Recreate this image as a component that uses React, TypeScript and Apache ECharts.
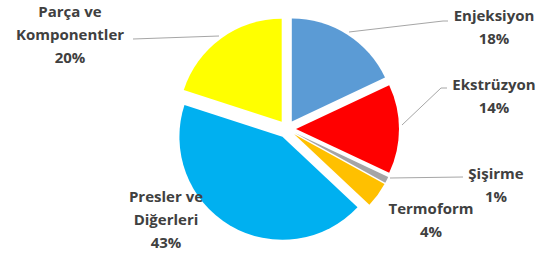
import React, { useEffect, useRef } from "react";
import * as echarts from "echarts";

const categories = ["Enjeksiyon", "Ekstrüzyon", "Şişirme", "Termoform", "Presler ve\nDiğerleri", "Parça ve\nKomponentler"];
const values = [18, 14, 1, 4, 43, 20];
const colors = ["#5B9BD5", "#FF0000", "#A5A5A5", "#FFC000", "#00B0F0", "#FFFF00"];

// label placement (style only)
const labelPos: { x: number; y: number; line?: number[][] }[] = [
  { x: 494, y: 26, line: [[349, 32], [443, 21], [448, 21]] },
  { x: 494, y: 95, line: [[402, 125], [441, 88], [447, 88]] },
  { x: 496, y: 184, line: [[390, 178], [463, 177]] },
  { x: 431, y: 219 },
  { x: 166, y: 219 },
  { x: 70, y: 34, line: [[133, 39], [219, 36]] },
];

const CENTER = [287, 129];
const RADIUS = 103;

export default function App() {
  const ref = useRef<HTMLDivElement>(null);
  useEffect(() => {
    if (!ref.current) return;
    const chart = echarts.init(ref.current, undefined, { renderer: "svg" });
    chart.setOption({
      animation: false,
      series: [
        {
          type: "pie",
          center: CENTER,
          radius: RADIUS,
          startAngle: 90,
          clockwise: true,
          selectedMode: "multiple",
          selectedOffset: 9,
          emphasis: { disabled: true },
          label: { show: false },
          labelLine: { show: false },
          data: categories.map((name, i) => ({
            name,
            value: values[i],
            selected: true,
            itemStyle: { color: colors[i] },
          })),
        },
        {
          type: "pie",
          center: CENTER,
          radius: RADIUS,
          startAngle: 90,
          clockwise: true,
          silent: true,
          selectedMode: false,
          emphasis: { disabled: true },
          itemStyle: { color: "rgba(0,0,0,0)" },
          data: categories.map((name, i) => ({
            name,
            value: values[i],
            labelLine: { show: !!labelPos[i].line },
          })),
          label: {
            show: true,
            position: "outside",
            formatter: (p: any) => `${p.name}\n${p.value}%`,
            fontFamily: "Open Sans",
            fontWeight: "bold",
            fontSize: 15,
            lineHeight: 23,
            color: "#404040",
            align: "center",
            width: 150,
            overflow: "none",
          },
          labelLine: {
            show: true,
            lineStyle: { color: "#A6A6A6", width: 1 },
          },
          labelLayout: (params: any) => {
            const p = labelPos[params.dataIndex];
            const o: any = { x: p.x, y: p.y, align: "center", verticalAlign: "middle" };
            if (p.line) o.labelLinePoints = p.line;
            return o;
          },
        },
      ],
    });
    return () => chart.dispose();
  }, []);
  return <div ref={ref} style={{ width: 539, height: 254, position: "absolute", left: 0, top: 0, background: "#fff" }} />;
}
